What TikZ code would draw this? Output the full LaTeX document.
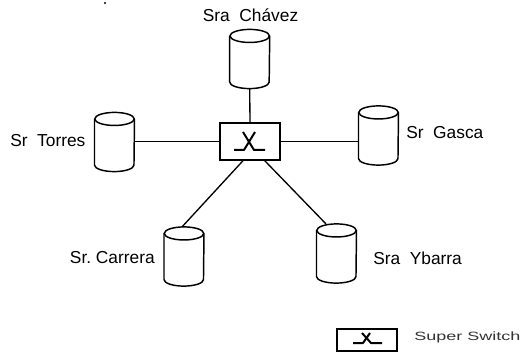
\documentclass[tikz,border=0pt]{standalone}
\usepackage{fontspec}
\setmainfont{Liberation Sans}
\tikzset{
  disknode/.style={rectangle,minimum width=29.6pt,minimum height=44pt,inner sep=0pt},
  diskline/.style={draw=black,line width=1.1pt},
  swbox/.style={rectangle,draw=black,line width=1.2pt,inner sep=0pt,fill=white},
  lbl/.style={font=\fontsize{13pt}{15pt}\selectfont,inner sep=0pt,text=black},
  link/.style={draw=black,line width=1pt},
  swsym/.style={draw=black,line width=1.5pt,line join=round}
}
\newcommand{\diskat}[2]{%
  \node[disknode] (#1) at (#2) {};
  \draw[diskline] ([yshift=-4.9pt]#1.north west) -- ([yshift=4.9pt]#1.south west)
    arc[start angle=180,end angle=360,x radius=14.8pt,y radius=4.9pt]
    -- ([yshift=-4.9pt]#1.north east);
  \draw[diskline] ([yshift=-4.9pt]#1.north) ellipse[x radius=14.8pt,y radius=4.9pt];
}
\begin{document}
\begin{tikzpicture}[x=0.75pt,y=-0.75pt]
\useasboundingbox (0,0) rectangle (523,352);
\node[swbox,minimum width=45pt,minimum height=27.5pt] (sw) at (250,141.5) {};
\diskat{ch}{249.7,59}
\diskat{to}{114.5,142}
\diskat{ga}{378.5,135.5}
\diskat{ca}{184,256.5}
\diskat{yb}{336.5,253.5}
\draw[link] (sw.north) -- (ch.south);
\draw[link] (sw.west) -- (sw.west -| to.east);
\draw[link] (sw.east) -- (sw.east -| ga.west);
\coordinate (a) at ([xshift=-5.2pt]sw.south);
\coordinate (b) at ([xshift=11pt]sw.south);
\draw[link] (a) -- ([xshift=-1.5pt]ca.north);
\draw[link] (b) -- ([xshift=-7.9pt]yb.north);
\coordinate (c) at (sw.center);
\draw[swsym] ([shift={(-16,8.5)}]c) -- ([shift={(-6,8.5)}]c) -- ([shift={(5,-9.5)}]c);
\draw[swsym] ([shift={(15,8.5)}]c) -- ([shift={(4,8.5)}]c) -- ([shift={(-7,-9.5)}]c);
\node[lbl] (t1) at (250.5,15) {Sra\ \ Chávez};
\node[lbl,anchor=west] (t2) at (10,141) {Sr\ \ Torres};
\node[lbl,anchor=west] (t3) at (406,133) {Sr\ \ Gasca};
\node[lbl,anchor=east] (t4) at (155,258) {Sr.\ Carrera};
\node[lbl,anchor=west] (t5) at (373,258) {Sra\ \ Ybarra};
\node[swbox,minimum width=45pt,minimum height=16.5pt] (lg) at (367,340) {};
\coordinate (d) at (lg.center);
\draw[swsym] ([shift={(-14,3)}]d) -- ([shift={(-4,3)}]d) -- ([shift={(3,-7)}]d);
\draw[swsym] ([shift={(15,3)}]d) -- ([shift={(4,3)}]d) -- ([shift={(-5,-7)}]d);
\node[lbl,anchor=west,font=\fontsize{9pt}{11pt}\selectfont,xscale=1.5,text=black!80] (t6) at (414,337) {Super Switch};
\fill[black] (105,3) circle[radius=0.8pt];
\end{tikzpicture}
\end{document}
